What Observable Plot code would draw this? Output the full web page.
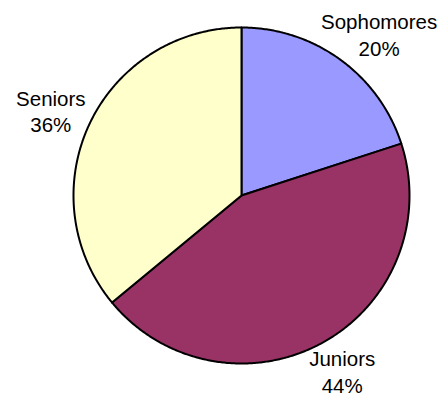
<!DOCTYPE html>
<html>
<head>
<meta charset="utf-8">
<script src="https://cdn.jsdelivr.net/npm/d3@7"></script>
<script src="https://cdn.jsdelivr.net/npm/@observablehq/plot@0.6"></script>
<style>
  html, body { margin: 0; padding: 0; background: #fff; }
  #chart svg { display: block; }
</style>
</head>
<body>
<div id="chart"></div>
<script>
const categories = ["Sophomores", "Juniors", "Seniors"];
const shares = [20, 44, 36];
const labels = ["20%", "44%", "36%"];
const colors = ["#9999FF", "#993366", "#FFFFCC"];

const W = 440, H = 402;
const cx = 241, cy = 195, r = 168;
const fontSize = 20.5;
const fontFamily = "'Liberation Sans', Arial, sans-serif";

const arcs = d3.pie().sort(null).value(d => d)(shares);

// slice outlines in unit coordinates (radius = 1)
const pts = [];
arcs.forEach((a, i) => {
  const cat = categories[i];
  pts.push({cat, x: 0, y: 0});
  const n = Math.max(2, Math.ceil((a.endAngle - a.startAngle) / (Math.PI / 360)));
  for (let k = 0; k <= n; k++) {
    const t = a.startAngle + (a.endAngle - a.startAngle) * k / n;
    pts.push({cat, x: Math.sin(t), y: Math.cos(t)});
  }
});

// label placement
const ctx = document.createElement("canvas").getContext("2d");
ctx.font = `${fontSize}px ${fontFamily}`;
const labelData = arcs.map((a, i) => {
  const mid = (a.startAngle + a.endAngle) / 2;
  const halfW = Math.max(ctx.measureText(categories[i]).width, ctx.measureText(labels[i]).width) / 2;
  const halfH = 24;
  const R = 176;
  return {
    text: categories[i] + "\n" + labels[i],
    x: Math.sin(mid) * (R + halfW) / r,
    y: Math.cos(mid) * (R + halfH) / r
  };
});

const chart = Plot.plot({
  width: W,
  height: H,
  margin: 0,
  x: {domain: [-cx / r, (W - cx) / r], range: [0, W], axis: null},
  y: {domain: [-(H - cy) / r, cy / r], range: [H, 0], axis: null},
  color: {domain: categories, range: colors},
  style: {fontFamily, background: "#fff"},
  marks: [
    Plot.line(pts, {x: "x", y: "y", z: "cat", fill: "cat", stroke: "black", strokeWidth: 2, curve: "linear-closed", strokeLinejoin: "round"}),
    Plot.text(labelData, {x: "x", y: "y", text: "text", fontSize, lineHeight: 1.3, textAnchor: "middle", lineAnchor: "middle", fill: "black"})
  ]
});
document.getElementById("chart").appendChild(chart);
</script>
</body>
</html>
